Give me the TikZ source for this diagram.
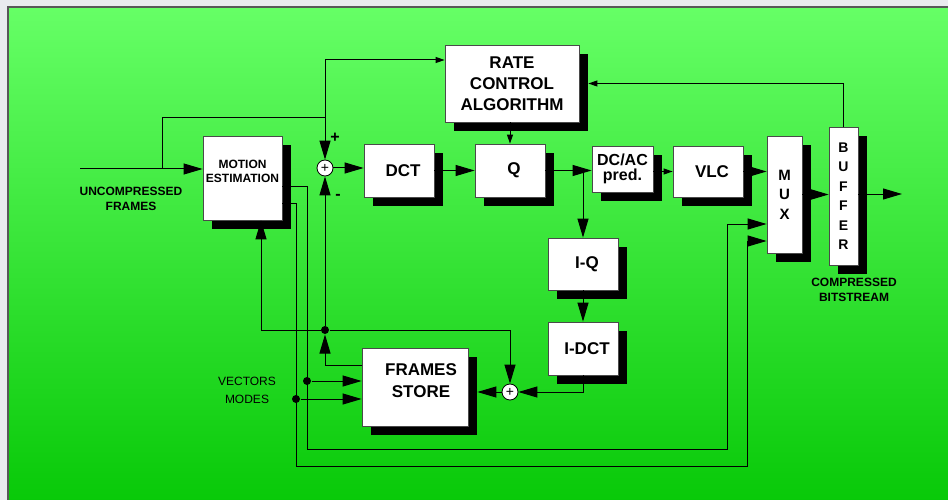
\documentclass[tikz,border=0pt]{standalone}
\usepackage{fontspec}
\setmainfont{Liberation Sans}
\usetikzlibrary{arrows.meta,shadows}
\definecolor{PageGrey}{HTML}{E9EBEE}
\definecolor{FieldTop}{HTML}{66FF66}
\definecolor{FieldBottom}{HTML}{06C806}
\definecolor{FieldEdge}{HTML}{585858}
\definecolor{BoxEdge}{HTML}{4A4A4A}
\tikzset{
  blk/.style={draw=BoxEdge, line width=0.8pt, fill=white, inner sep=0pt,
    align=center, font=\bfseries\fontsize{17}{21}\selectfont,
    drop shadow={shadow xshift=9pt, shadow yshift=-9pt, opacity=1, fill=black}},
  adder/.style={circle, draw, fill=white, line width=0.8pt, minimum size=16pt,
    inner sep=0pt, font=\fontsize{14}{14}\selectfont},
  junct/.style={circle, fill=black, minimum size=8pt, inner sep=0pt},
  arr/.style={-{Triangle[length=19pt,width=11pt]}},
  sarr/.style={-{Triangle[length=9pt,width=6pt]}},
  tag/.style={font=\bfseries\fontsize{12}{14.5}\selectfont, align=center},
  plain/.style={font=\fontsize{12}{18}\selectfont},
  sign/.style={font=\bfseries\fontsize{16}{16}\selectfont},
}
\begin{document}
\begin{tikzpicture}[x=1pt, y=-1pt, line width=1pt]
  \useasboundingbox (0,0) rectangle (948,500);
  % backdrop
  \fill[PageGrey] (0,0) rectangle (948,500);
  \shade[top color=FieldTop, bottom color=FieldBottom] (8,7) rectangle (960,512);
  \draw[FieldEdge, line width=1.5pt] (8,512) -- (8,7) -- (960,7);
  % blocks
  \node[blk, minimum width=79pt, minimum height=84pt] (me) at (242.5,178) {};
  \node[tag, font=\bfseries\fontsize{12}{14}\selectfont] (me text) at ([yshift=7pt]me) {MOTION\\ESTIMATION};
  \node[blk, minimum width=134pt, minimum height=77pt] (rc) at (512,83.5) {RATE\\CONTROL\\ALGORITHM};
  \node[blk, minimum width=70pt, minimum height=53pt] (dct) at (399,170.5) {\hspace*{8pt}DCT};
  \node[blk, minimum width=70pt, minimum height=53pt] (q) at (510,170.5) {\hspace*{8pt}Q};
  \node[blk, minimum width=61pt, minimum height=46pt,
    font=\bfseries\fontsize{16}{15}\selectfont] (dcac) at (622.5,169) {DC/AC\\pred.};
  \node[blk, minimum width=70pt, minimum height=51pt] (vlc) at (708,171.5) {\hspace*{8pt}VLC};
  \node[blk, minimum width=35pt, minimum height=117pt,
    font=\bfseries\fontsize{15}{19.5}\selectfont] (mux) at (784.5,194.5) {M\\U\\X};
  \node[blk, minimum width=29pt, minimum height=138pt,
    font=\bfseries\fontsize{14}{19.5}\selectfont] (buf) at (843.5,196) {B\\U\\F\\F\\E\\R};
  \node[blk, minimum width=70pt, minimum height=52pt] (iq) at (583,264) {\hspace*{8pt}I-Q};
  \node[blk, minimum width=70pt, minimum height=53pt] (idct) at (583,348.5) {\hspace*{8pt}I-DCT};
  \node[blk, minimum width=106pt, minimum height=78pt] (fs) at (415,387) {};
  \node[tag, font=\bfseries\fontsize{17}{22}\selectfont] (fs text) at ([shift={(6pt,6pt)}]fs) {FRAMES\\STORE};
  \node[adder] (sum1) at (325,168) {+};
  \node[adder] (sum2) at (510,392) {+};
  % forward path
  \coordinate (in) at (80,169);
  \coordinate (br) at (162,169);
  \coordinate (jn) at (325,118);
  \coordinate (tp) at (325,60);
  \draw[arr] (in) -- (in -| me.west);
  \draw (br) |- (jn);
  \draw[sarr] (tp) -- (tp -| rc.west);
  \draw[arr] (tp) -- (sum1);
  \draw[arr] (sum1) -- (sum1 -| dct.west);
  \draw[arr] (dct) -- (q);
  \draw[sarr] (q |- rc.south) -- (q);
  \draw[arr] (q) -- (q -| dcac.west);
  \draw[arr] (q -| iq) -- (iq);
  \draw[sarr] (dcac.east |- vlc) -- (vlc);
  \draw[arr] (vlc) -- (vlc -| mux.west);
  \draw[arr] (mux) -- (mux -| buf.west);
  \coordinate (out) at (902,194);
  \draw[arr] (buf.east |- out) -- (out);
  \draw[sarr, shorten >=9pt] (buf.north) |- (rc);
  % reconstruction loop
  \draw[arr] (iq) -- (idct);
  \draw[arr] (idct) |- (sum2);
  \draw[arr, shorten >=9pt] (sum2) -- (sum2 -| fs.east);
  \node[junct] (fb) at (325,330) {};
  \draw[arr] ([yshift=22pt]fs.west) -| (fb);
  \draw[arr] (fb) -- (sum1);
  \draw[arr] (fb) -| ([xshift=18.5pt]me.south);
  \draw[arr] (fb) -| (sum2);
  % vectors and modes
  \coordinate (va) at (307,449);
  \coordinate (ma) at (727,224);
  \coordinate (vb) at (296,466);
  \coordinate (mb) at (747,241);
  \draw[arr] ([yshift=-8pt]me.east) -| (va) -| (ma) -- (ma -| mux.west);
  \draw[arr] ([yshift=-25pt]me.east) -| (vb) -| (mb) -- (mb -| mux.west);
  \node[junct] (dv) at (307,381) {};
  \node[junct] (dm) at (296,399) {};
  \draw[arr] (dv) -- (dv -| fs.west);
  \draw[arr] (dm) -- (dm -| fs.west);
  % labels
  \node[tag] (src) at (131,199) {UNCOMPRESSED\\FRAMES};
  \node[tag, font=\bfseries\fontsize{12}{15}\selectfont] (dst) at (854,290) {COMPRESSED\\BITSTREAM};
  \node[plain] (vec) at (247,381) {VECTORS};
  \node[plain] (mod) at (247,399) {MODES};
  \node[sign] (plus) at (335,138) {+};
  \node[sign] (minus) at (338,197) {-};
\end{tikzpicture}
\end{document}
